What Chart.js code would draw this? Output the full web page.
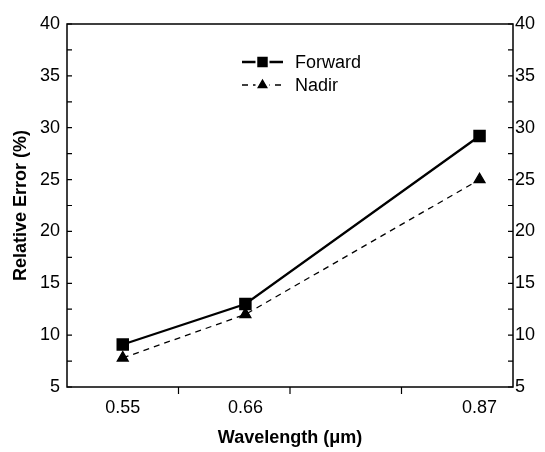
<!DOCTYPE html>
<html>
<head>
<meta charset="utf-8">
<script src="https://cdn.jsdelivr.net/npm/chart.js@4/dist/chart.umd.min.js"></script>
<style>
  html, body { margin: 0; padding: 0; background: #fff; }
  #wrap { width: 545px; height: 452px; }
</style>
</head>
<body>
<div id="wrap"><canvas id="myChart" width="545" height="452"></canvas></div>
<script>
// values
const wavelengths = [0.55, 0.66, 0.87];
const forward = [9.1, 13.0, 29.2];
const nadir = [7.8, 12.0, 25.0];
const xTickMarks = [0.6, 0.7, 0.8];
const yLabelStep = 5;

const font = 'Liberation Sans, Arial, sans-serif';

// inward ticks on both y axes, outward on x, plus the frame
const framePlugin = {
    id: 'frame',
    afterDraw(chart) {
        const ctx = chart.ctx;
        const a = chart.chartArea;
        ctx.save();
        ctx.strokeStyle = '#000';
        ctx.lineWidth = 1.5;
        ctx.strokeRect(a.left, a.top, a.right - a.left, a.bottom - a.top);

        ctx.lineWidth = 1.2;
        const ys = chart.scales.y;
        ys.ticks.forEach(t => {
            const py = ys.getPixelForValue(t.value);
            ctx.beginPath();
            ctx.moveTo(a.left, py);
            ctx.lineTo(a.left + 5, py);
            ctx.moveTo(a.right, py);
            ctx.lineTo(a.right - 5, py);
            ctx.stroke();
        });
        const xs = chart.scales.x;
        xTickMarks.forEach(v => {
            const px = xs.getPixelForValue(v);
            ctx.beginPath();
            ctx.moveTo(px, a.bottom);
            ctx.lineTo(px, a.bottom + 7);
            ctx.stroke();
        });
        ctx.restore();
    }
};

// legend inside the plot
const insideLegend = {
    id: 'insideLegend',
    afterDraw(chart) {
        const ctx = chart.ctx;
        const x0 = 242, x1 = 283, tx = 295;
        const rows = [62, 85];
        ctx.save();
        chart.data.datasets.forEach((ds, i) => {
            const y = rows[i];
            ctx.strokeStyle = ds.borderColor;
            ctx.lineWidth = ds.borderWidth;
            ctx.setLineDash(ds.borderDash || []);
            ctx.beginPath();
            ctx.moveTo(x0, y);
            ctx.lineTo(x1, y);
            ctx.stroke();
            ctx.setLineDash([]);
            ctx.fillStyle = '#fff';
            ctx.fillRect((x0 + x1) / 2 - 7, y - 7, 14, 14);
            ctx.fillStyle = ds.pointBackgroundColor;
            ctx.strokeStyle = ds.pointBorderColor;
            Chart.helpers.drawPoint(ctx, {
                pointStyle: ds.pointStyle,
                radius: ds.pointRadius * 0.8,
                borderWidth: 1
            }, (x0 + x1) / 2, y);
            ctx.fillStyle = '#000';
            ctx.font = '18px ' + font;
            ctx.textBaseline = 'middle';
            ctx.textAlign = 'left';
            ctx.fillText(ds.label, tx, y + 1);
        });
        ctx.restore();
    }
};

const yAxis = (pos) => ({
    type: 'linear',
    position: pos,
    min: 5,
    max: 40,
    border: { display: false },
    grid: { display: false, drawTicks: false },
    ticks: {
        stepSize: 2.5,
        padding: pos === 'left' ? 7 : 2,
        color: '#000',
        font: { family: font, size: 18 },
        callback: v => (v % yLabelStep === 0 ? v : '')
    }
});

const data = {
    datasets: [
        {
            label: 'Forward',
            data: wavelengths.map((w, i) => ({ x: w, y: forward[i] })),
            borderColor: '#000',
            borderWidth: 2.3,
            pointStyle: 'rect',
            pointRadius: 7.2,
            pointBackgroundColor: '#000',
            pointBorderColor: '#000',
            yAxisID: 'y'
        },
        {
            label: 'Nadir',
            data: wavelengths.map((w, i) => ({ x: w, y: nadir[i] })),
            borderColor: '#000',
            borderWidth: 1.3,
            borderDash: [6, 5],
            pointStyle: 'triangle',
            pointRadius: 6.3,
            pointBackgroundColor: '#000',
            pointBorderColor: '#000',
            yAxisID: 'y'
        }
    ]
};

const config = {
    type: 'line',
    data: data,
    options: {
        responsive: false,
        animation: false,
        layout: { padding: { top: 24, left: 0, right: 0, bottom: 0 } },
        plugins: { legend: { display: false }, tooltip: { enabled: false } },
        scales: {
            x: {
                type: 'linear',
                min: 0.5,
                max: 0.9,
                border: { display: false },
                grid: { display: false, drawTicks: false },
                afterBuildTicks: s => { s.ticks = wavelengths.map(v => ({ value: v })); },
                afterFit: s => { s.height = 65; },
                ticks: {
                    padding: 10,
                    color: '#000',
                    font: { family: font, size: 18 },
                    maxRotation: 0,
                    callback: v => v.toFixed(2)
                },
                title: {
                    display: true,
                    text: 'Wavelength (\u03bcm)',
                    color: '#000',
                    font: { family: font, size: 18, weight: 'bold' },
                    padding: { top: 0, bottom: 3 }
                }
            },
            y: Object.assign(yAxis('left'), {
                afterFit: s => { s.width = 67; },
                title: {
                    display: true,
                    text: 'Relative Error (%)',
                    color: '#000',
                    font: { family: font, size: 18, weight: 'bold' },
                    padding: { top: 10, bottom: 0 }
                }
            }),
            y2: Object.assign(yAxis('right'), {
                afterFit: s => { s.width = 32; }
            })
        }
    },
    plugins: [framePlugin, insideLegend]
};

var myChart = new Chart(document.getElementById('myChart'), config);
</script>
</body>
</html>
